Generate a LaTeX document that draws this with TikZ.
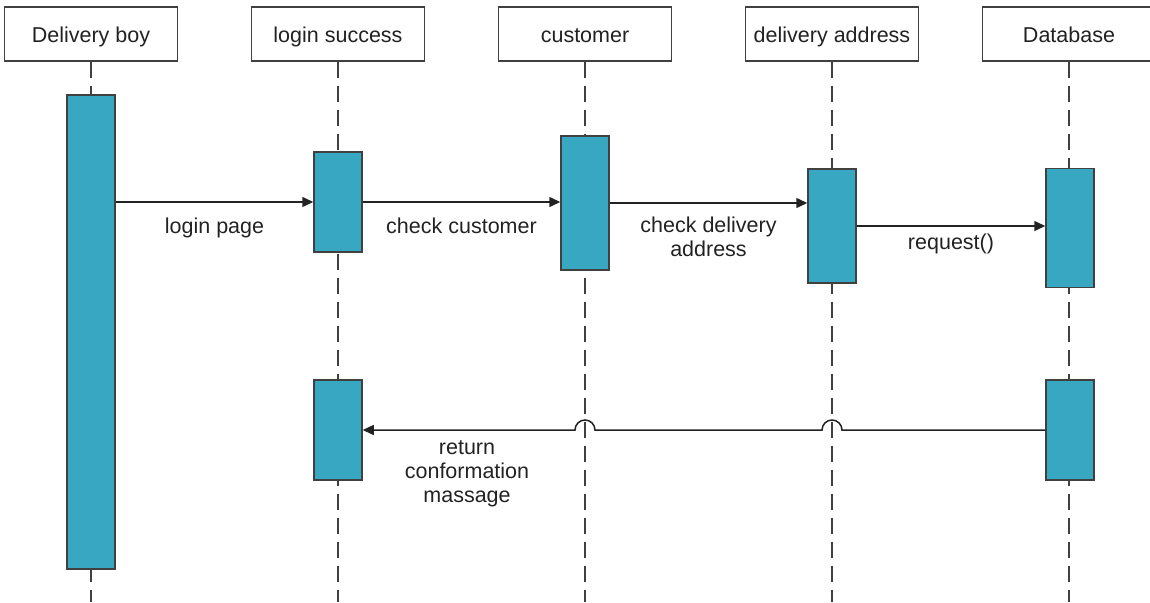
\documentclass[tikz,border=0pt]{standalone}
\usepackage{fontspec}
\setmainfont{Liberation Sans}
\usetikzlibrary{arrows.meta,calc}
\definecolor{barteal}{RGB}{56, 168, 194}
\definecolor{edgegray}{RGB}{64, 64, 64}
\definecolor{inkgray}{RGB}{34, 34, 34}

\begin{document}
\begin{tikzpicture}[x=1pt, y=-1pt,
        font=\fontsize{21.5}{24}\selectfont,
        head/.style={draw=edgegray, line width=1.5pt, fill=white, minimum width=173pt,
                     minimum height=54pt, inner sep=0pt, text=inkgray,
                     text height=18pt, text depth=2pt},
        bar/.style={draw=edgegray, line width=1.5pt, fill=barteal, minimum width=48pt, inner sep=0pt},
        life/.style={edgegray, line width=1.3pt, dash pattern=on 16pt off 8pt},
        msg/.style={inkgray, line width=1.5pt, -{Triangle[length=11pt, width=10pt]}},
        lbl/.style={text=inkgray, align=center, inner sep=0pt}]
    \clip (0,0) rectangle (1150,602);
    % Heads
    \node[head] (boy)   at (  91, 34) {Delivery boy};
    \node[head] (login) at ( 338, 34) {login success};
    \node[head] (cust)  at ( 585, 34) {customer};
    \node[head] (addr)  at ( 832, 34) {delivery address};
    \node[head] (db)    at (1069, 34) {Database};
    \coordinate (bottom) at (0, 602);
    % Lifelines
    \foreach \h in {boy, login, cust, addr, db}
        \draw[life] (\h.south) -- (\h.south |- bottom);
    % Activation bars
    \node[bar, minimum height=474pt] (boybar)    at (  91, 332) {};
    \node[bar, minimum height=100pt] (loginbar)  at ( 338, 202) {};
    \node[bar, minimum height=134pt] (custbar)   at ( 585, 203) {};
    \node[bar, minimum height=114pt] (addrbar)   at ( 832, 226) {};
    \node[bar, minimum height=119pt] (dbbar)     at (1070, 228) {};
    \node[bar, minimum height=100pt] (loginback) at ( 338, 430) {};
    \node[bar, minimum height=100pt] (dbback)    at (1070, 430) {};
    % Messages
    \draw[msg] (boybar.east |- loginbar.west) -- (loginbar.west)
        node[lbl, midway, yshift=-26pt] {login page};
    \draw[msg] (loginbar.east) -- (loginbar.east -| custbar.west)
        node[lbl, midway, yshift=-24pt] {check customer};
    \draw[msg] (custbar.east) -- (custbar.east -| addrbar.west)
        node[lbl, midway, yshift=-34pt] {check delivery\\address};
    \draw[msg] (addrbar.east) -- (addrbar.east -| dbbar.west)
        node[lbl, midway, yshift=-18pt] {request()};
    % Reply, hopping over the lifelines
    \draw[msg] (dbback.west) -- ($(dbback.west -| addr.south)+(10,0)$)
        arc[start angle=0, end angle=180, radius=10pt]
        -- ($(dbback.west -| cust.south)+(10,0)$)
        arc[start angle=0, end angle=180, radius=10pt]
        -- (loginback.east);
    \node[lbl] (replylbl) at (467, 474) {return\\conformation\\massage};
\end{tikzpicture}
\end{document}
